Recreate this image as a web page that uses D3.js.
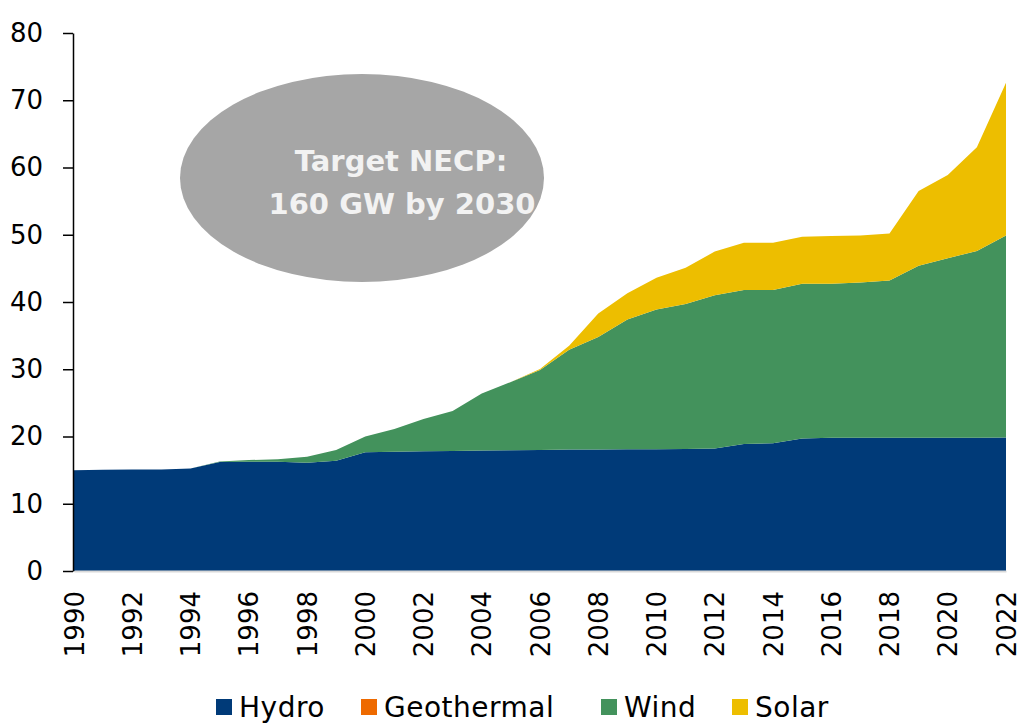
<!DOCTYPE html>
<head>
  <title>Installed renewable capacity</title>
  <style>
    body { margin: 0; background: #ffffff; }
    text { font-family: "DejaVu Sans", sans-serif; }
  </style>
</head>
<body>
  <script src="https://cdn.jsdelivr.net/npm/d3@7/dist/d3.min.js"></script>
  <script>
    // data (GW)
    var years = d3.range(1990, 2023);
    var hydro = [15.0, 15.05, 15.1, 15.1, 15.25, 16.2, 16.25, 16.25, 16.1, 16.4,
                 17.65, 17.75, 17.8, 17.85, 17.9, 17.95, 18.0, 18.05, 18.05, 18.1,
                 18.1, 18.15, 18.2, 18.9, 19.0, 19.7, 19.8, 19.8, 19.8, 19.8,
                 19.8, 19.8, 19.85];
    var geothermal = [0, 0, 0, 0, 0, 0, 0, 0, 0, 0,
                      0, 0, 0, 0, 0, 0, 0, 0, 0, 0,
                      0, 0, 0, 0, 0, 0, 0, 0, 0, 0,
                      0, 0, 0];
    var wind = [0, 0, 0, 0, 0, 0.1, 0.25, 0.35, 0.9, 1.6,
                2.35, 3.35, 4.8, 5.95, 8.5, 10.15, 11.9, 14.85, 16.75, 19.3,
                20.8, 21.55, 22.8, 22.9, 22.8, 23.0, 22.9, 23.1, 23.4, 25.6,
                26.7, 27.8, 30.05];
    var solar = [0, 0, 0, 0, 0, 0, 0, 0, 0, 0,
                 0, 0, 0, 0, 0, 0.02, 0.15, 0.6, 3.5, 3.9,
                 4.7, 5.4, 6.5, 7.0, 7.0, 7.0, 7.1, 7.0, 7.0, 11.1,
                 12.4, 15.4, 22.7];
    var seriesNames = ["Hydro", "Geothermal", "Wind", "Solar"];
    var seriesColors = ["#003a78", "#ee6a00", "#43925c", "#edbe00"];
    var yTicks = [0, 10, 20, 30, 40, 50, 60, 70, 80];
    var xTickYears = d3.range(1990, 2023, 2);

    var table = years.map(function(y, i) {
      return { year: y, Hydro: hydro[i], Geothermal: geothermal[i], Wind: wind[i], Solar: solar[i] };
    });

    var W = 1022, H = 723;
    var svg = d3.select("body").append("svg")
        .attr("width", W)
        .attr("height", H);

    // scales
    var x = d3.scaleLinear().domain([1990, 2022]).range([74, 1006]);
    var y = d3.scaleLinear().domain([0, 80]).range([571, 33]);
    var color = d3.scaleOrdinal().domain(seriesNames).range(seriesColors);

    // stacked areas
    var stack = d3.stack().keys(seriesNames);
    var layers = stack(table);

    var area = d3.area()
        .x(function(d) { return x(d.data.year); })
        .y0(function(d) { return y(d[0]); })
        .y1(function(d) { return y(d[1]); });

    svg.selectAll(".layer")
        .data(layers)
      .enter().append("path")
        .attr("class", "layer")
        .attr("fill", function(d) { return color(d.key); })
        .attr("d", area);

    // X axis (light line, rotated year labels)
    var xAxis = svg.append("g")
        .attr("transform", "translate(0,571)")
        .call(d3.axisBottom(x).tickValues(xTickYears).tickSize(0).tickFormat(d3.format("d")));
    xAxis.select(".domain").attr("stroke", "#d9d9d9").attr("stroke-width", 2);
    xAxis.selectAll("text")
        .attr("transform", "rotate(-90)")
        .attr("x", -20)
        .attr("y", 0)
        .attr("dy", "0.35em")
        .attr("text-anchor", "end")
        .attr("fill", "#000")
        .style("font-size", "26px");

    // Y axis
    var yAxis = svg.append("g")
        .attr("transform", "translate(73,0)")
        .call(d3.axisLeft(y).tickValues(yTicks).tickSize(10).tickSizeOuter(0).tickPadding(20));
    yAxis.select(".domain").attr("stroke", "#000").attr("stroke-width", 1.5);
    yAxis.selectAll("line").attr("stroke", "#000").attr("stroke-width", 1.5);
    yAxis.selectAll("text")
        .attr("fill", "#000")
        .style("font-size", "26px");

    // target annotation
    svg.append("ellipse")
        .attr("cx", 362)
        .attr("cy", 178)
        .attr("rx", 182)
        .attr("ry", 104)
        .attr("fill", "#a6a6a6");

    var note = svg.append("text")
        .attr("text-anchor", "middle")
        .attr("fill", "#f2f2f2")
        .style("font-size", "29px")
        .style("font-weight", "bold");
    note.append("tspan").attr("x", 401).attr("y", 171).text("Target NECP:");
    note.append("tspan").attr("x", 402).attr("y", 214).text("160 GW by 2030");

    // legend
    var legendX = [216, 361, 601, 732];
    var legend = svg.selectAll(".legend")
        .data(seriesNames)
      .enter().append("g")
        .attr("class", "legend")
        .attr("transform", function(d, i) { return "translate(" + legendX[i] + ",699)"; });

    legend.append("rect")
        .attr("width", 16)
        .attr("height", 16)
        .attr("fill", function(d) { return color(d); });

    legend.append("text")
        .attr("x", 23)
        .attr("y", 8)
        .attr("dy", "0.36em")
        .attr("fill", "#000")
        .style("font-size", "28px")
        .style("letter-spacing", "0.5px")
        .text(function(d) { return d; });
  </script>
</body>
